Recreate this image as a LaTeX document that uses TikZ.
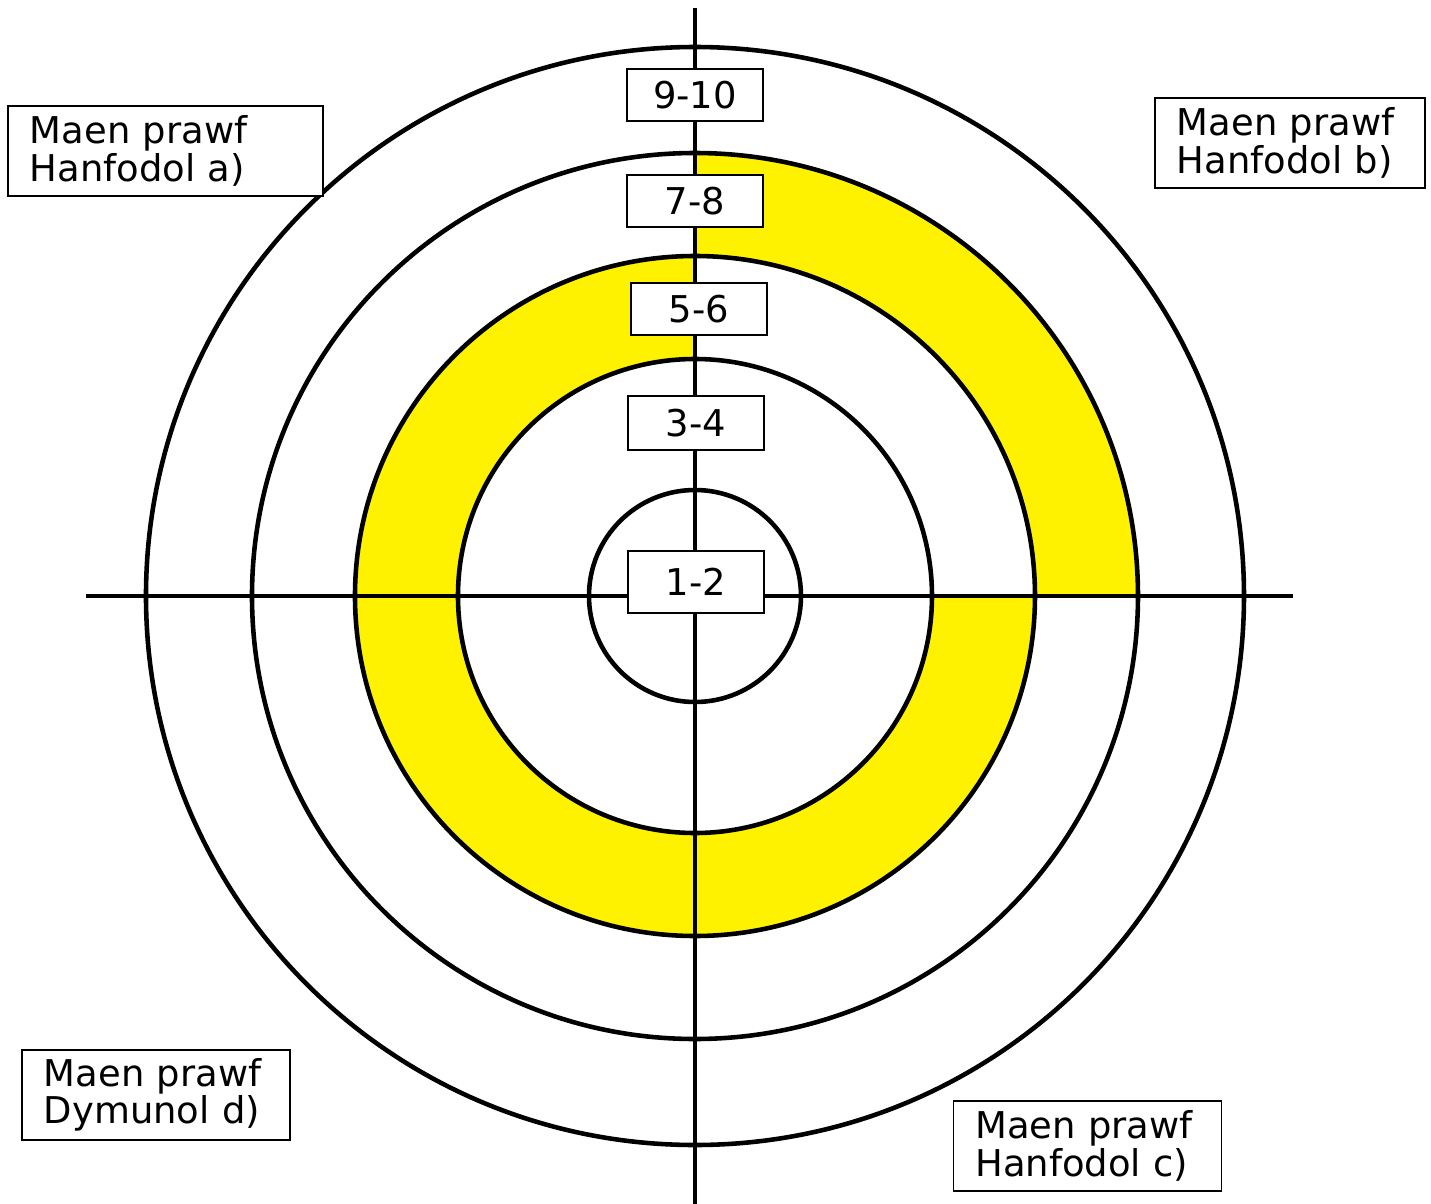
\documentclass[tikz,border=0pt]{standalone}
\usepackage{fontspec}
\setmainfont{DejaVu Sans}
\usepackage{tikz}
\usetikzlibrary{positioning,calc}
\usepackage{xcolor}
\definecolor{ringyellow}{RGB}{255,242,0}

\begin{document}
\begin{tikzpicture}[
  every node/.style={font=\fontsize{21}{20}\selectfont},
  ringline/.style={draw=black,line width=2.6pt},
  axisline/.style={draw=black,line width=2.6pt},
  bandlbl/.style={draw=black,line width=1.1pt,fill=white,
                  minimum width=2.72cm,minimum height=1.04cm,inner sep=0pt},
  critbox/.style={draw=black,line width=1.1pt,fill=white,align=left,
                  inner xsep=0.44cm,minimum height=1.8cm},
]

%% Frame of the page
\useasboundingbox (-13.9,-12.14) rectangle (14.72,11.92);

%% Ring radii
\def\ra{2.12}
\def\rb{4.74}
\def\rc{6.8}
\def\rd{8.86}
\def\re{10.98}

%% Yellow bands
\fill[ringyellow] (0:\rc) arc[start angle=0,end angle=90,radius=\rc]
  -- (90:\rd) arc[start angle=90,end angle=0,radius=\rd] -- cycle;
\fill[ringyellow] (90:\rb) arc[start angle=90,end angle=360,radius=\rb]
  -- (360:\rc) arc[start angle=360,end angle=90,radius=\rc] -- cycle;

%% Circles
\foreach \r in {\ra,\rb,\rc,\rd,\re}
  \draw[ringline] (0,0) circle[radius=\r];

%% Axes
\coordinate (xl) at (-12.18,0);
\coordinate (xr) at (11.96,0);
\coordinate (yt) at (0,11.76);
\coordinate (yb) at (0,-12.2);
\draw[axisline] (xl) -- (xr);
\draw[axisline] (yb) -- (yt);

%% Score bands
\node[bandlbl] (b910) at (0,10.02) {9-10};
\node[bandlbl] (b78)  at (0,7.9)  {7-8};
\node[bandlbl] (b56)  at (0.08,5.74) {5-6};
\node[bandlbl,minimum height=1.08cm] (b34) at (0.02,3.46) {3-4};
\node[bandlbl,minimum height=1.24cm] (b12) at (0.02,0.28) {1-2};

%% Criteria
\node[critbox,text width=5.42cm] (crita) at (-10.59,8.9)
  {Maen prawf\\Hanfodol a)};
\node[critbox,text width=4.52cm] (critb) at (11.9,9.06)
  {Maen prawf\\Hanfodol b)};
\node[critbox,text width=4.48cm] (critc) at (7.85,-11.0)
  {Maen prawf\\Hanfodol c)};
\node[critbox,text width=4.48cm] (critd) at (-10.78,-9.98)
  {Maen prawf\\Dymunol d)};

\end{tikzpicture}
\end{document}
